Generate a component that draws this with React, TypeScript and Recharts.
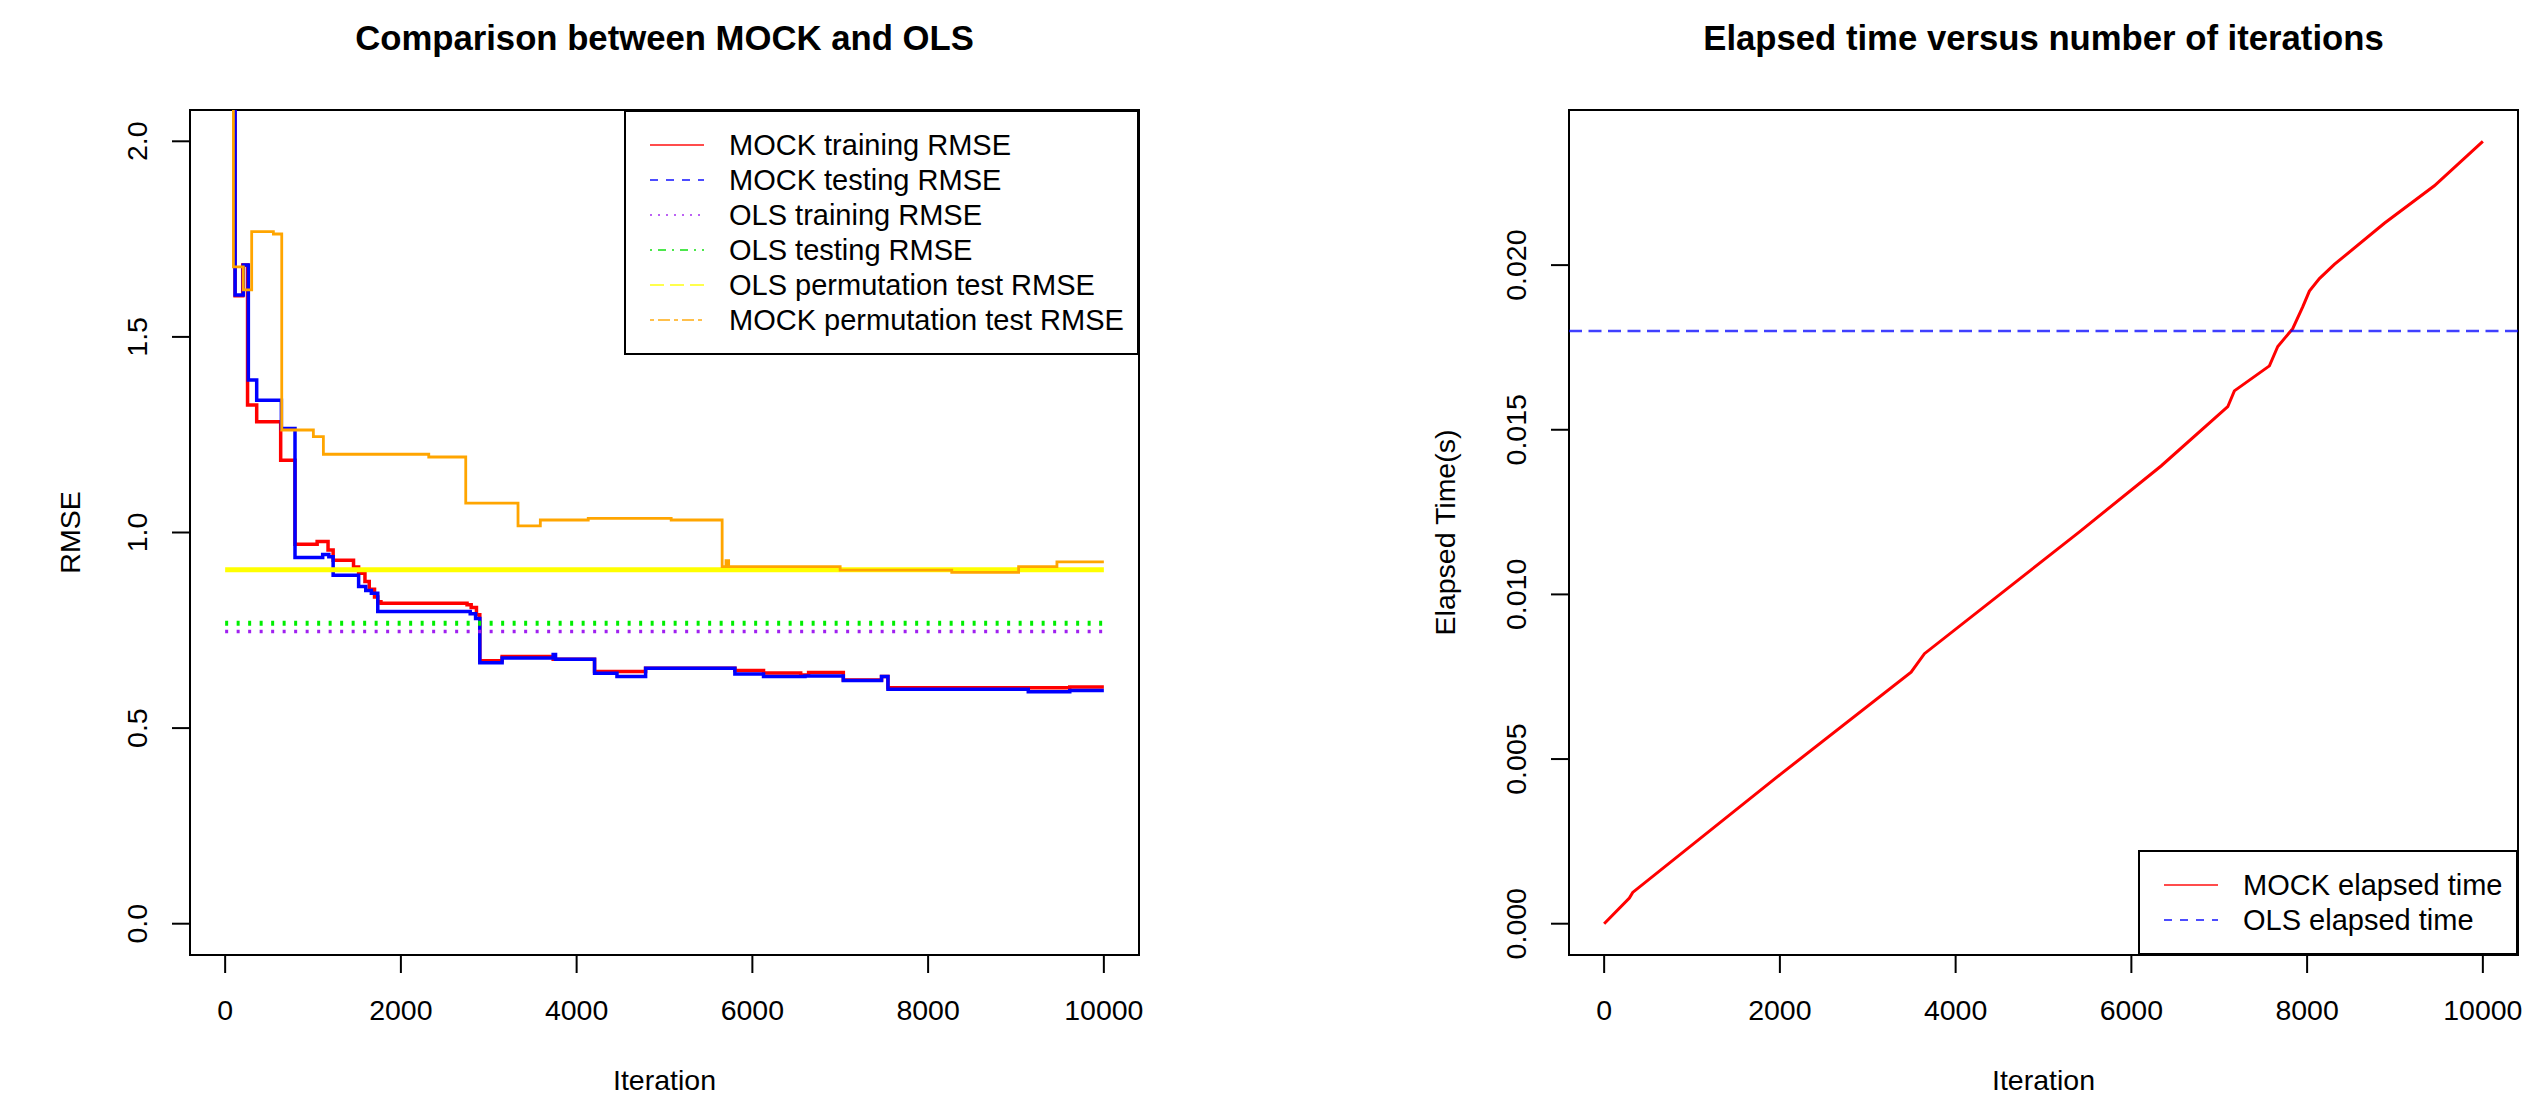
import { LineChart, Line, XAxis, YAxis, ReferenceArea, ReferenceLine, Legend } from 'recharts';

const FONT = '"Liberation Sans", Arial, Helvetica, sans-serif';

// ---- data (iteration, value) ----
const mockTrainRmse: [number, number][] = [
    [0, 2.6], [113, 1.605], [200, 1.684], [255, 1.326], [359, 1.283], [632, 1.185],
    [795, 0.97], [1047, 0.977], [1171, 0.955], [1229, 0.929], [1461, 0.912], [1519, 0.896],
    [1591, 0.875], [1640, 0.855], [1700, 0.835], [1737, 0.823], [1773, 0.819], [2753, 0.815],
    [2800, 0.808], [2860, 0.79], [2898, 0.672], [3152, 0.683], [3733, 0.676], [4204, 0.645],
    [4785, 0.653], [5801, 0.647], [6127, 0.641], [6550, 0.636], [6640, 0.642], [7035, 0.623],
    [7470, 0.632], [7543, 0.603], [9612, 0.605], [10000, 0.605],
];

const mockTestRmse: [number, number][] = [
    [0, 2.6], [113, 1.607], [207, 1.684], [264, 1.39], [359, 1.338], [640, 1.266],
    [795, 0.936], [1110, 0.944], [1180, 0.938], [1229, 0.891], [1519, 0.862], [1600, 0.852],
    [1664, 0.845], [1737, 0.798], [2789, 0.792], [2850, 0.78], [2898, 0.667], [3152, 0.679],
    [3733, 0.688], [3760, 0.676], [4204, 0.64], [4459, 0.632], [4785, 0.653], [5801, 0.638],
    [6127, 0.632], [6599, 0.633], [7035, 0.622], [7470, 0.632], [7543, 0.599], [9140, 0.593],
    [9612, 0.596], [10000, 0.596],
];

const mockPermRmse: [number, number][] = [
    [0, 2.6], [94, 1.679], [207, 1.62], [302, 1.769], [549, 1.763], [644, 1.262],
    [1004, 1.245], [1118, 1.2], [2317, 1.193], [2738, 1.075], [3333, 1.017], [3587, 1.032],
    [4132, 1.036], [5076, 1.032], [5656, 0.913], [5700, 0.928], [5730, 0.913], [6999, 0.904],
    [8269, 0.898], [9030, 0.913], [9466, 0.925], [10000, 0.925],
];

const olsTrainRmse: [number, number][] = [[0, 0.747], [10000, 0.747]];
const olsTestRmse: [number, number][] = [[0, 0.768], [10000, 0.768]];
const olsPermRmse: [number, number][] = [[0, 0.905], [10000, 0.905]];

const mockElapsed: [number, number][] = [
    [0, 0], [287, 0.00078], [325, 0.00095], [2013, 0.00455], [3493, 0.00764], [3645, 0.0082],
    [5409, 0.0119], [6338, 0.0139], [7097, 0.0157], [7172, 0.01618], [7571, 0.01694],
    [7666, 0.01753], [7836, 0.01807], [7950, 0.01873], [8026, 0.01921], [8140, 0.01959],
    [8310, 0.02002], [8879, 0.02127], [9448, 0.02241], [10000, 0.02376],
];
const olsElapsed = 0.018;

const iterTicks = [0, 2000, 4000, 6000, 8000, 10000];
const rmseTicks = [0, 0.5, 1, 1.5, 2];
const timeTicks = [0, 0.005, 0.01, 0.015, 0.02];

// R style axis range: data range padded by 4% each side
const ext = (lo: number, hi: number): [number, number] => [lo - 0.04 * (hi - lo), hi + 0.04 * (hi - lo)];
const iterDomain = ext(0, 10000);
const rmseDomain = ext(0, 2);
const timeDomain = ext(0, Math.max(...mockElapsed.map((d) => d[1])));

const toRows = (pts: [number, number][]) => pts.map(([it, v]) => ({ it, v }));

const rmseLegend = [
    { label: 'MOCK training RMSE', color: '#ff0000' },
    { label: 'MOCK testing RMSE', color: '#0000ff', dash: '8 8' },
    { label: 'OLS training RMSE', color: '#a020f0', dash: '2 6' },
    { label: 'OLS testing RMSE', color: '#00dd00', dash: '2 6 8 6' },
    { label: 'OLS permutation test RMSE', color: '#ffff00', dash: '14 6' },
    { label: 'MOCK permutation test RMSE', color: '#ffa500', dash: '4 4 12 4' },
];
const timeLegend = [
    { label: 'MOCK elapsed time', color: '#ff0000' },
    { label: 'OLS elapsed time', color: '#0000ff', dash: '8 8' },
];

const LegendBox = ({ items, width }: { items: { label: string; color: string; dash?: string }[]; width: number }) => {
    const row = 35;
    const height = (items.length + 1) * row;
    return (
        <svg width={width} height={height} style={{ display: 'block' }}>
            <rect x={1} y={1} width={width - 2} height={height - 2} fill="#fff" stroke="#000" strokeWidth={2} />
            {items.map((it, i) => {
                const cy = row * (i + 1);
                return (
                    <g key={it.label}>
                        <line x1={26} x2={80} y1={cy} y2={cy} stroke={it.color} strokeWidth={2} strokeOpacity={0.7} strokeDasharray={it.dash} />
                        <text x={105} y={cy + 10} fontSize={29} fontFamily={FONT} fill="#000">{it.label}</text>
                    </g>
                );
            })}
        </svg>
    );
};

const XTick = (props: any) => (
    <text x={props.x} y={props.y + 20.3} textAnchor="middle" fontSize={28.5} fontFamily={FONT} fill="#000">
        {props.payload.value}
    </text>
);

const yTick = (digits: number) => (props: any) => (
    <text
        x={props.x}
        y={props.y}
        transform={`rotate(-90 ${props.x} ${props.y})`}
        textAnchor="middle"
        fontSize={28.5}
        fontFamily={FONT}
        fill="#000"
    >
        {Number(props.payload.value).toFixed(digits)}
    </text>
);

const tickLine = { stroke: '#000', strokeWidth: 2 };

export default function App() {
    return (
        <div style={{ position: 'absolute', left: 0, top: 0, width: 2545, height: 1095, background: '#fff', overflow: 'hidden' }}>
            {/* left panel: RMSE */}
            <div style={{ position: 'absolute', left: 0, top: 0 }}>
                <LineChart width={1272} height={1095} margin={{ top: 110, right: 133, bottom: 80, left: 90 }}>
                    <XAxis
                        dataKey="it"
                        type="number"
                        domain={iterDomain}
                        ticks={iterTicks}
                        allowDataOverflow
                        height={60}
                        axisLine={false}
                        tickLine={tickLine}
                        tickSize={18}
                        tickMargin={27}
                        tick={XTick}
                    />
                    <YAxis
                        type="number"
                        domain={rmseDomain}
                        ticks={rmseTicks}
                        allowDataOverflow
                        width={100}
                        axisLine={false}
                        tickLine={tickLine}
                        tickSize={18}
                        tickMargin={25}
                        tick={yTick(1)}
                    />
                    <Line data={toRows(mockTrainRmse)} dataKey="v" type="stepAfter" stroke="#ff0000" strokeWidth={3.5} dot={false} activeDot={false} isAnimationActive={false} />
                    <Line data={toRows(mockTestRmse)} dataKey="v" type="stepAfter" stroke="#0000ff" strokeWidth={3.5} dot={false} activeDot={false} isAnimationActive={false} />
                    <Line data={toRows(olsTrainRmse)} dataKey="v" stroke="#a020f0" strokeWidth={3.5} strokeDasharray="3 8.5" dot={false} activeDot={false} isAnimationActive={false} />
                    <Line data={toRows(olsTestRmse)} dataKey="v" stroke="#00ee00" strokeWidth={5} strokeDasharray="3 8.5" dot={false} activeDot={false} isAnimationActive={false} />
                    <Line data={toRows(olsPermRmse)} dataKey="v" stroke="#ffff00" strokeWidth={5} dot={false} activeDot={false} isAnimationActive={false} />
                    <Line data={toRows(mockPermRmse)} dataKey="v" type="stepAfter" stroke="#ffa500" strokeWidth={2.8} dot={false} activeDot={false} isAnimationActive={false} />
                    <ReferenceArea x1={iterDomain[0]} x2={iterDomain[1]} y1={rmseDomain[0]} y2={rmseDomain[1]} fill="none" stroke="#000" strokeWidth={2} />
                    <Legend
                        layout="vertical"
                        align="center"
                        verticalAlign="middle"
                        wrapperStyle={{ left: 624, top: 110, width: 515, height: 245, margin: 0, padding: 0, lineHeight: 0 }}
                        content={() => <LegendBox items={rmseLegend} width={515} />}
                    />
                </LineChart>
            </div>

            {/* right panel: elapsed time */}
            <div style={{ position: 'absolute', left: 1272, top: 0 }}>
                <LineChart width={1273} height={1095} margin={{ top: 110, right: 27, bottom: 80, left: 197 }}>
                    <XAxis
                        dataKey="it"
                        type="number"
                        domain={iterDomain}
                        ticks={iterTicks}
                        allowDataOverflow
                        height={60}
                        axisLine={false}
                        tickLine={tickLine}
                        tickSize={18}
                        tickMargin={27}
                        tick={XTick}
                    />
                    <YAxis
                        type="number"
                        domain={timeDomain}
                        ticks={timeTicks}
                        allowDataOverflow
                        width={100}
                        axisLine={false}
                        tickLine={tickLine}
                        tickSize={18}
                        tickMargin={25}
                        tick={yTick(3)}
                    />
                    <Line data={toRows(mockElapsed)} dataKey="v" stroke="#ff0000" strokeWidth={3} dot={false} activeDot={false} isAnimationActive={false} />
                    <ReferenceLine y={olsElapsed} stroke="#0000ff" strokeOpacity={0.75} strokeWidth={2.5} strokeDasharray="13 6.5" />
                    <ReferenceArea x1={iterDomain[0]} x2={iterDomain[1]} y1={timeDomain[0]} y2={timeDomain[1]} fill="none" stroke="#000" strokeWidth={2} />
                    <Legend
                        layout="vertical"
                        align="center"
                        verticalAlign="middle"
                        wrapperStyle={{ left: 866, top: 850, width: 380, height: 105, margin: 0, padding: 0, lineHeight: 0 }}
                        content={() => <LegendBox items={timeLegend} width={380} />}
                    />
                </LineChart>
            </div>

            {/* titles and axis labels */}
            <svg width={2545} height={1095} style={{ position: 'absolute', left: 0, top: 0, pointerEvents: 'none' }}>
                <g fontFamily={FONT} fill="#000">
                    <text x={664.5} y={50} textAnchor="middle" fontSize={34.7} fontWeight="bold">Comparison between MOCK and OLS</text>
                    <text x={2043.5} y={50} textAnchor="middle" fontSize={34.7} fontWeight="bold">Elapsed time versus number of iterations</text>
                    <text x={664.5} y={1090} textAnchor="middle" fontSize={28.5}>Iteration</text>
                    <text x={2043.5} y={1090} textAnchor="middle" fontSize={28.5}>Iteration</text>
                    <text x={80} y={532.5} transform="rotate(-90 80 532.5)" textAnchor="middle" fontSize={28.5}>RMSE</text>
                    <text x={1455} y={532.5} transform="rotate(-90 1455 532.5)" textAnchor="middle" fontSize={28.5}>Elapsed Time(s)</text>
                </g>
            </svg>
        </div>
    );
}
